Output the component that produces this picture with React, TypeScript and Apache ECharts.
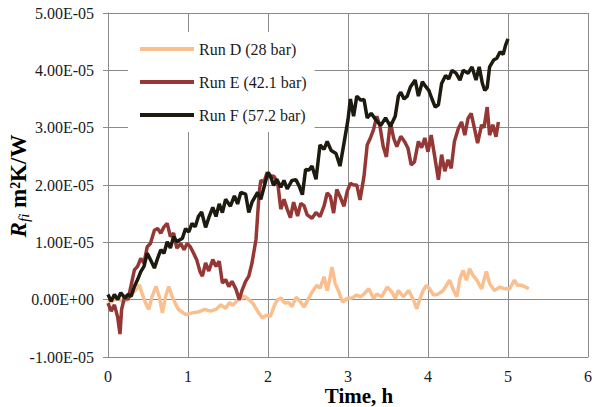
import React, { useEffect, useRef } from "react";
import * as echarts from "echarts";

// Values in units of 1e-5 m²K/W, time in hours
const runDTime = [0.00,0.06,0.12,0.18,0.25,0.31,0.35,0.39,0.43,0.47,0.51,0.55,0.60,0.64,0.68,0.72,0.76,0.80,0.84,0.88,0.93,0.97,1.05,1.14,1.21,1.28,1.35,1.41,1.47,1.52,1.56,1.61,1.66,1.70,1.76,1.81,1.87,1.93,1.98,2.03,2.08,2.12,2.16,2.21,2.26,2.30,2.35,2.39,2.45,2.50,2.55,2.61,2.65,2.70,2.74,2.77,2.80,2.84,2.88,2.93,2.99,3.05,3.11,3.16,3.20,3.26,3.32,3.36,3.42,3.49,3.55,3.59,3.63,3.69,3.76,3.82,3.86,3.90,3.94,3.98,4.02,4.07,4.13,4.19,4.23,4.27,4.32,4.36,4.40,4.44,4.48,4.52,4.56,4.61,4.67,4.73,4.77,4.83,4.90,4.96,5.02,5.08,5.12,5.17,5.22,5.26];
const runDVal = [-0.06,-0.02,0.03,-0.03,0.00,0.12,0.17,0.26,0.09,-0.06,-0.17,0.05,0.23,0.06,-0.23,0.06,0.23,0.06,-0.06,-0.17,-0.22,-0.26,-0.23,-0.21,-0.17,-0.20,-0.17,-0.09,-0.15,-0.05,-0.10,-0.02,0.02,0.06,0.00,-0.06,-0.20,-0.32,-0.27,-0.29,-0.10,0.00,0.03,-0.06,-0.05,-0.12,0.04,-0.01,-0.13,0.00,0.13,0.25,0.20,0.40,0.16,0.34,0.57,0.28,0.16,-0.04,0.02,0.03,0.08,0.05,0.10,0.19,0.02,0.10,0.05,0.22,0.13,0.02,0.16,0.05,0.16,-0.01,-0.16,0.02,0.16,0.25,0.19,0.08,0.10,0.16,0.25,0.34,0.16,0.05,0.37,0.51,0.34,0.54,0.43,0.34,0.19,0.49,0.28,0.16,0.22,0.19,0.19,0.34,0.25,0.25,0.22,0.19];

const runETime = [0.00,0.04,0.08,0.12,0.15,0.17,0.21,0.25,0.29,0.33,0.37,0.41,0.45,0.49,0.53,0.58,0.62,0.66,0.70,0.74,0.78,0.82,0.86,0.91,0.95,0.99,1.03,1.07,1.11,1.15,1.18,1.22,1.26,1.31,1.35,1.39,1.43,1.47,1.51,1.55,1.60,1.64,1.68,1.72,1.76,1.80,1.85,1.87,1.89,1.91,1.95,1.99,2.03,2.07,2.12,2.16,2.20,2.24,2.28,2.32,2.37,2.41,2.45,2.49,2.55,2.60,2.65,2.70,2.74,2.78,2.82,2.86,2.90,2.95,2.99,3.03,3.07,3.11,3.15,3.20,3.24,3.28,3.32,3.36,3.40,3.44,3.48,3.53,3.57,3.61,3.66,3.71,3.75,3.79,3.83,3.88,3.92,3.96,4.00,4.04,4.08,4.13,4.17,4.21,4.25,4.29,4.33,4.38,4.42,4.46,4.50,4.54,4.58,4.62,4.67,4.70,4.74,4.77,4.81,4.85,4.88];
const runEVal = [-0.06,-0.20,-0.09,-0.30,-0.60,-0.17,0.06,0.00,0.26,0.52,0.58,0.72,0.64,0.92,0.98,1.21,1.24,1.16,1.27,1.33,1.10,1.16,0.90,0.98,0.87,0.98,0.92,0.81,0.69,0.49,0.41,0.64,0.50,0.70,0.58,0.67,0.29,0.35,0.23,0.32,0.18,0.00,0.18,0.32,0.41,0.64,1.05,1.46,1.87,2.08,2.05,2.22,2.13,2.16,2.05,1.58,1.75,1.58,1.43,1.70,1.46,1.68,1.64,1.48,1.42,1.52,1.45,1.63,1.86,1.80,1.51,1.92,1.80,1.63,1.89,2.03,2.00,2.00,1.74,2.15,2.70,2.82,2.97,3.20,3.02,2.67,2.49,3.10,2.82,2.67,2.85,2.75,2.64,2.35,2.40,2.76,2.65,2.82,2.58,2.87,2.53,2.09,2.53,2.24,2.44,2.29,2.76,2.99,3.10,2.87,3.16,3.25,2.99,2.73,3.05,3.00,3.36,2.87,3.05,2.84,3.10];

const runFTime = [0.00,0.04,0.08,0.12,0.16,0.21,0.25,0.29,0.33,0.37,0.41,0.45,0.49,0.53,0.58,0.62,0.66,0.70,0.74,0.78,0.82,0.86,0.93,0.97,1.01,1.05,1.09,1.13,1.17,1.22,1.26,1.31,1.35,1.39,1.43,1.47,1.53,1.58,1.62,1.66,1.72,1.76,1.80,1.87,1.91,1.95,2.00,2.03,2.07,2.11,2.16,2.20,2.24,2.30,2.35,2.39,2.43,2.47,2.51,2.55,2.60,2.65,2.70,2.74,2.79,2.85,2.90,2.95,3.00,3.03,3.07,3.11,3.16,3.20,3.24,3.29,3.34,3.41,3.47,3.53,3.59,3.63,3.66,3.70,3.74,3.78,3.84,3.88,3.93,3.97,4.01,4.05,4.09,4.13,4.17,4.22,4.26,4.30,4.35,4.40,4.44,4.50,4.55,4.60,4.64,4.68,4.71,4.74,4.77,4.82,4.86,4.90,4.94,4.97,5.00];
const runFVal = [0.09,-0.03,0.09,0.00,0.12,0.03,0.09,0.06,0.23,0.35,0.49,0.58,0.81,0.70,0.55,0.72,0.87,0.81,1.01,0.90,1.10,1.01,1.07,1.24,1.18,1.33,1.27,1.45,1.53,1.26,1.43,1.61,1.45,1.67,1.52,1.75,1.63,1.81,1.67,1.87,1.84,1.52,1.70,1.87,1.75,1.96,2.22,2.16,1.99,2.10,1.96,2.08,1.93,2.08,2.09,1.98,1.83,2.27,2.26,2.33,2.10,2.70,2.62,2.76,2.60,2.55,2.33,2.73,3.14,3.50,3.20,3.55,3.48,3.49,3.17,3.25,3.15,3.04,3.17,3.02,3.20,3.55,3.62,3.50,3.55,3.71,3.83,3.55,3.80,3.72,3.65,3.50,3.36,3.40,3.77,3.91,3.85,4.00,3.95,3.83,4.00,3.95,4.06,3.83,4.06,3.77,3.65,3.70,4.06,4.18,4.21,4.32,4.28,4.44,4.55];

const seriesNames = ["Run D (28 bar)", "Run E (42.1 bar)", "Run F (57.2 bar)"];
const seriesColors = ["#FABF8F", "#953735", "#1D1B10"];
const yTickLabels = ["-1.00E-05", "0.00E+00", "1.00E-05", "2.00E-05", "3.00E-05", "4.00E-05", "5.00E-05"];
const UNIT = 1e-5;

const FONT = "'Liberation Serif', 'Times New Roman', serif";

function pairs(t: number[], v: number[]) {
  return t.map((x, i) => [x, v[i] * UNIT]);
}

export default function App() {
  const ref = useRef<HTMLDivElement>(null);
  useEffect(() => {
    if (!ref.current) return;
    const chart = echarts.init(ref.current, null, { renderer: "svg" });
    const data = [pairs(runDTime, runDVal), pairs(runETime, runEVal), pairs(runFTime, runFVal)];
    const grid = "#8A8A8A";
    chart.setOption({
      animation: false,
      backgroundColor: "#ffffff",
      grid: { left: 108, right: 5, top: 13, bottom: 50, containLabel: false },
      xAxis: {
        type: "value",
        min: 0,
        max: 6,
        interval: 1,
        axisLine: { show: true, onZero: false, lineStyle: { color: grid, width: 1 } },
        axisTick: { show: false },
        splitLine: { show: true, lineStyle: { color: grid, width: 1 } },
        axisLabel: { color: "#1a1a1a", fontFamily: FONT, fontSize: 16, margin: 11 },
      },
      yAxis: {
        type: "value",
        min: -1 * UNIT,
        max: 5 * UNIT,
        interval: UNIT,
        axisLine: { show: true, lineStyle: { color: grid, width: 1 } },
        axisTick: { show: true, inside: false, length: 5, lineStyle: { color: grid } },
        splitLine: { show: true, lineStyle: { color: grid, width: 1 } },
        axisLabel: {
          color: "#1a1a1a",
          fontFamily: FONT,
          fontSize: 16,
          margin: 14,
          formatter: (v: number) => yTickLabels[Math.round(v / UNIT) + 1] ?? "",
        },
      },
      legend: {
        show: true,
        orient: "vertical",
        left: 128,
        top: 32,
        padding: [9, 8, 9, 12],
        backgroundColor: "#ffffff",
        icon: "rect",
        itemWidth: 54,
        itemHeight: 4,
        itemGap: 17,
        textStyle: { fontFamily: FONT, fontSize: 16, color: "#1a1a1a" },
        data: seriesNames,
      },
      series: seriesNames.map((name, i) => ({
        name,
        type: "line",
        data: data[i],
        showSymbol: false,
        symbol: "none",
        smooth: false,
        color: seriesColors[i],
        lineStyle: { color: seriesColors[i], width: 3.5 },
        z: 2 + i,
      })),
      graphic: [
        {
          type: "text",
          x: 359,
          y: 396,
          style: {
            text: "Time, h",
            fontFamily: FONT,
            fontSize: 21,
            fontWeight: "bold",
            fill: "#000",
            align: "center",
            verticalAlign: "middle",
          },
        },
        {
          type: "text",
          x: 18,
          y: 186,
          rotation: Math.PI / 2,
          style: {
            text: "{R|R}{sub|fi}{m| m²K/W}",
            align: "center",
            verticalAlign: "middle",
            fill: "#000",
            rich: {
              R: { fontFamily: FONT, fontSize: 23, fontWeight: "bold", fontStyle: "italic", fill: "#000", lineHeight: 26, verticalAlign: "middle" },
              sub: { fontFamily: FONT, fontSize: 15, fontStyle: "italic", fill: "#000", lineHeight: 26, verticalAlign: "bottom", padding: [8, 0, 0, 0] },
              m: { fontFamily: FONT, fontSize: 23, fontWeight: "bold", fill: "#000", lineHeight: 26, verticalAlign: "middle" },
            },
          },
        },
      ],
    });
    return () => chart.dispose();
  }, []);
  return <div ref={ref} style={{ position: "absolute", left: 0, top: 0, width: 595, height: 407 }} />;
}
